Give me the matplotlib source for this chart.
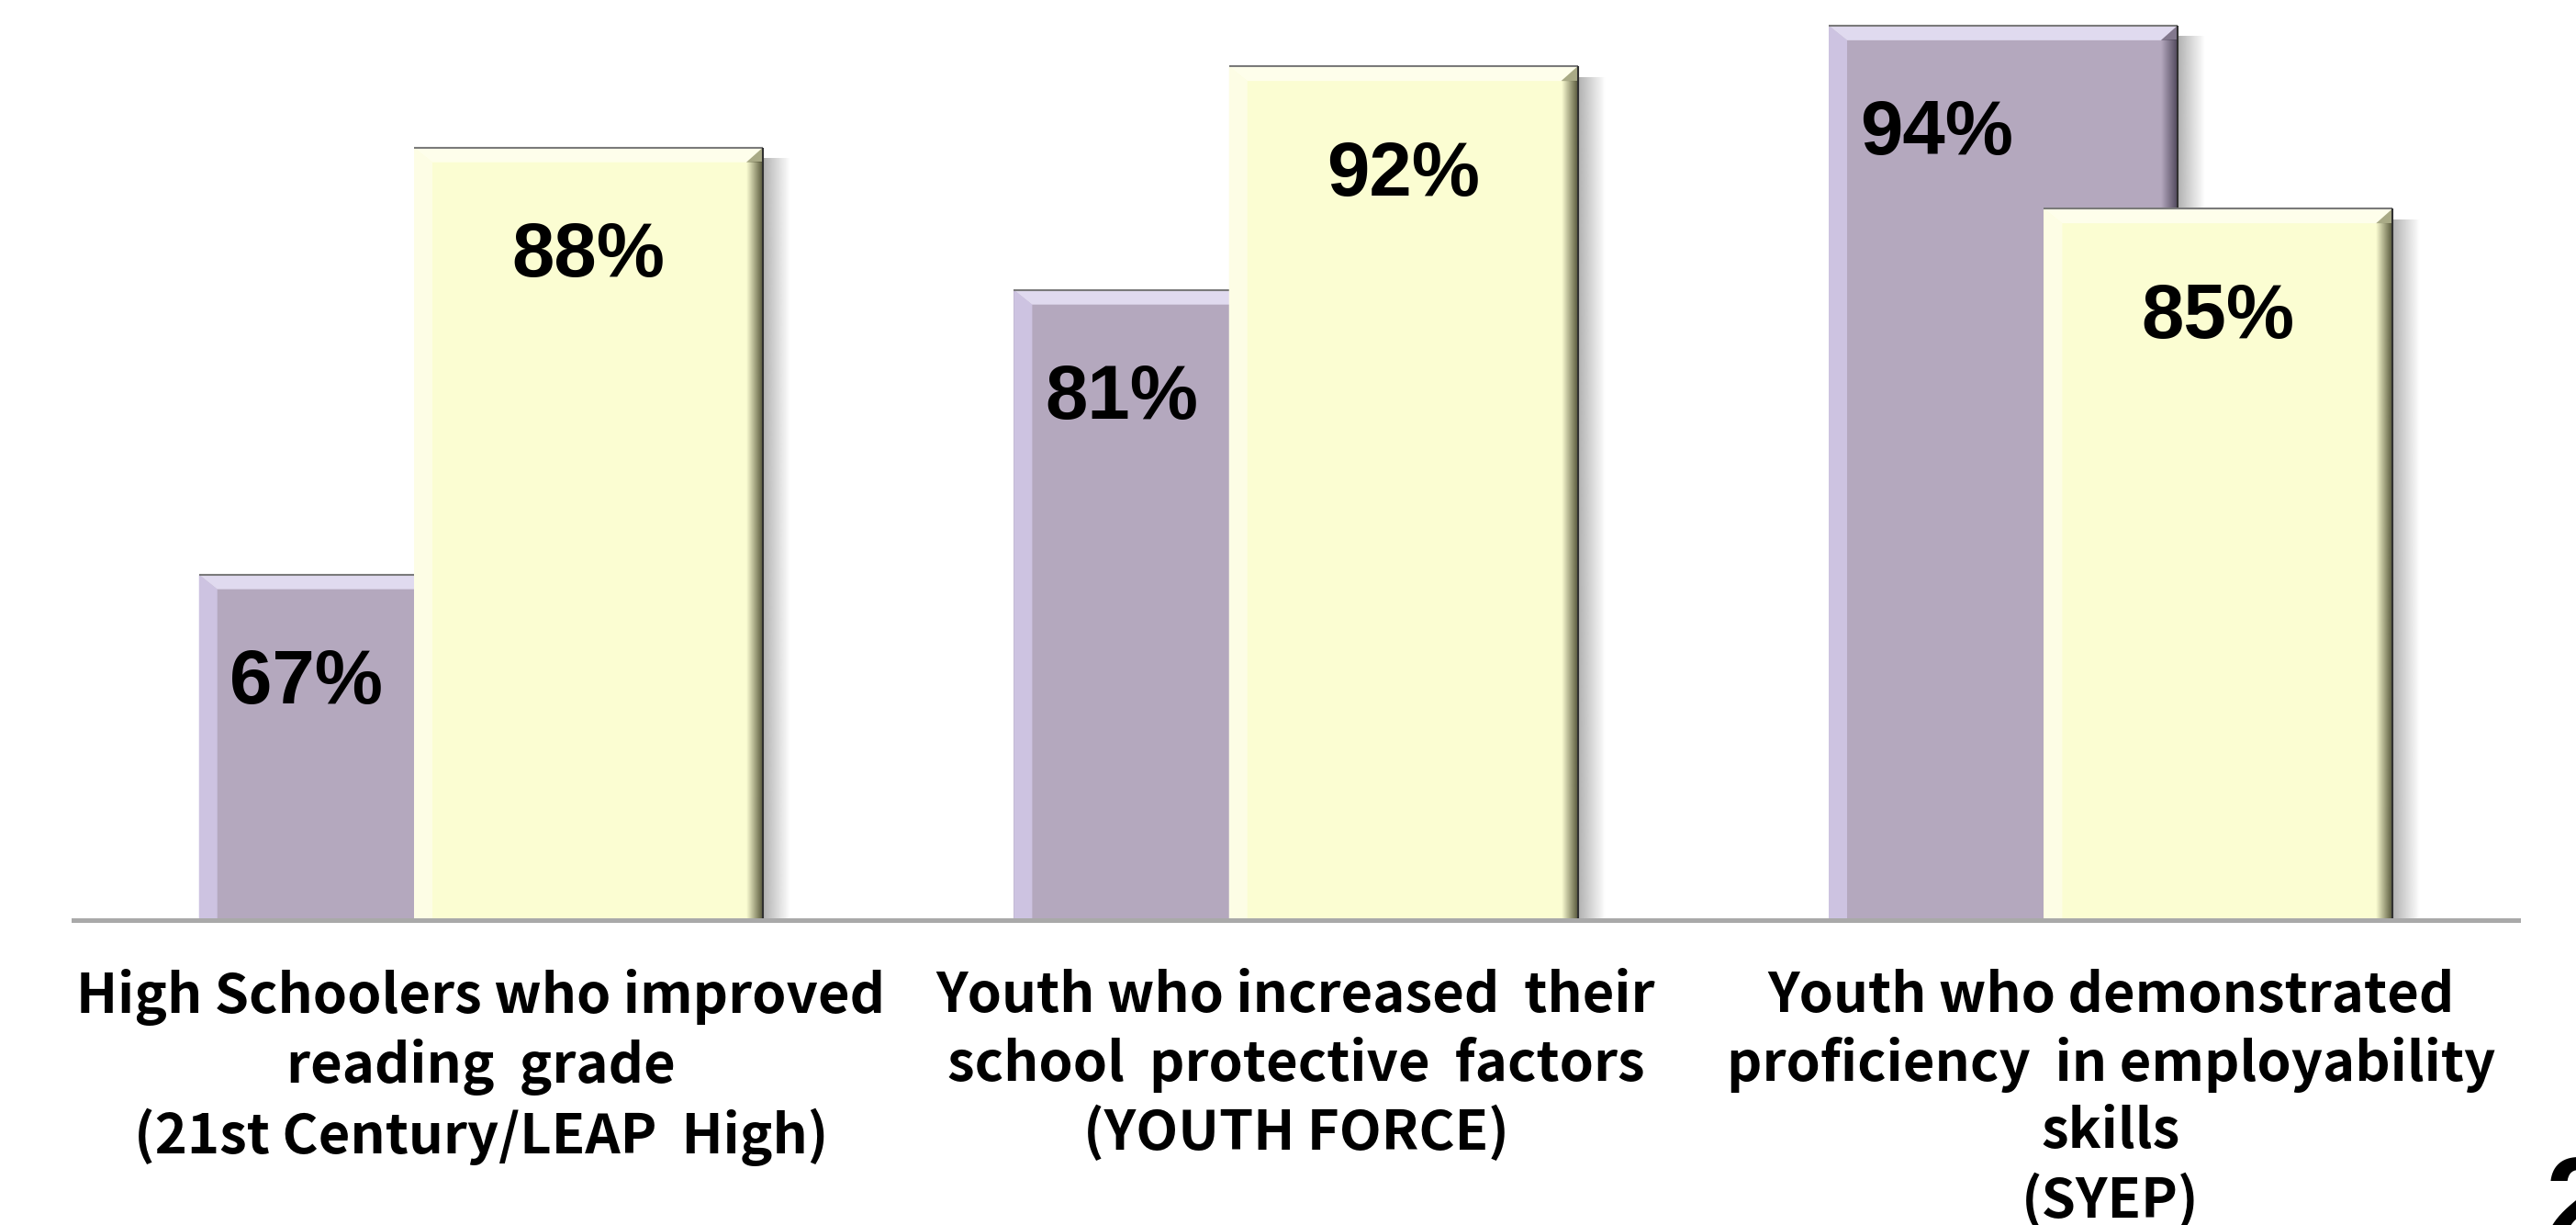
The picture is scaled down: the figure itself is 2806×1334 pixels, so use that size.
import matplotlib.pyplot as plt
import numpy as np
from matplotlib.patches import Polygon
from matplotlib.colors import to_rgb

# =========================
# DATA
# =========================
categories = [
    "High Schoolers who improved\nreading  grade\n(21st Century/LEAP  High)",
    "Youth who increased  their\nschool  protective  factors\n(YOUTH FORCE)",
    "Youth who demonstrated\nproficiency  in employability\nskills\n(SYEP)",
]
series_a = [67, 81, 94]   # purple series
series_b = [88, 92, 85]   # yellow series

# =========================
# STYLE
# =========================
PURPLE = "#b4a8be"
PURPLE_LEFT = "#d0c7e6"
PURPLE_TOP = "#e6e0f5"
PURPLE_DARK = "#463e52"

YELLOW = "#fbfdd2"
YELLOW_LEFT = "#fefee8"
YELLOW_TOP = "#ffffee"
YELLOW_DARK = "#45452a"

W, H = 2806, 1334
BAR_W = 0.428
OFFSET = 0.132

fig = plt.figure(figsize=(W / 100, H / 100), dpi=100)
ax = fig.add_axes([80 / W, (H - 1002) / H, 2663 / W, 1107 / H])
ax.set_xlim(-0.5, 2.5)
ax.set_ylim(50, 100)

# data units per output pixel
PX = 3 / 2663
PY = 50 / 1107


def gradient(x0, x1, y0, y1, color, a0, a1, z, vertical=False):
    n = 64
    img = np.zeros((n, 1, 4)) if vertical else np.zeros((1, n, 4))
    img[..., :3] = to_rgb(color)
    alpha = np.linspace(a0, a1, n)
    img[..., 3] = alpha[:, None] if vertical else alpha[None, :]
    ax.imshow(img, extent=(x0, x1, y0, y1), origin="lower", aspect="auto",
              interpolation="bilinear", zorder=z)


def bevel(bar, left_col, top_col, dark_col, z):
    x0 = bar.get_x()
    x1 = x0 + bar.get_width()
    yb = max(bar.get_y(), 50)
    yt = bar.get_y() + bar.get_height()
    lw, rw, tw = 20 * PX, 18 * PX, 16 * PY

    # drop shadow on the right side
    gradient(x1, x1 + 30 * PX, yb, yt - 12 * PY, "#707070", 0.55, 0.0, z - 0.5)

    ax.add_patch(Polygon([(x0, yb), (x0, yt), (x0 + lw, yt - tw), (x0 + lw, yb)],
                         closed=True, facecolor=left_col, edgecolor="none",
                         alpha=0.9, zorder=z + 0.1))
    ax.add_patch(Polygon([(x0, yt), (x1, yt), (x1 - rw, yt - tw), (x0 + lw, yt - tw)],
                         closed=True, facecolor=top_col, edgecolor="none",
                         alpha=0.9, zorder=z + 0.1))
    gradient(x1 - rw, x1, yb, yt - tw, dark_col, 0.0, 0.9, z + 0.2)
    ax.add_patch(Polygon([(x1, yt), (x1 - rw, yt - tw), (x1, yt - tw)],
                         closed=True, facecolor=dark_col, edgecolor="none",
                         alpha=0.45, zorder=z + 0.2))
    # thin outline along the top
    ax.plot([x0, x1], [yt, yt], color="#7a7a7a", lw=1.5, zorder=z + 0.3,
            solid_capstyle="butt")
    ax.plot([x1, x1], [yb, yt], color="#303030", lw=1.5, zorder=z + 0.3,
            solid_capstyle="butt")


x = np.arange(len(categories))

bars_a = ax.bar(x - OFFSET, series_a, width=BAR_W, color=PURPLE, zorder=2)
bars_b = ax.bar(x + OFFSET, series_b, width=BAR_W, color=YELLOW, zorder=4)

for bar in bars_a:
    bevel(bar, PURPLE_LEFT, PURPLE_TOP, PURPLE_DARK, 2)
for bar in bars_b:
    bevel(bar, YELLOW_LEFT, YELLOW_TOP, YELLOW_DARK, 4)

# value labels, just under each bar top
label_font = dict(family="Liberation Sans", weight="bold", size=60, color="black")
for ba, bb, va_, vb_ in zip(bars_a, bars_b, series_a, series_b):
    # purple labels sit in the part of the bar left of the yellow one
    xa = (ba.get_x() + bb.get_x()) / 2
    ax.text(xa, va_ - 5.35, f"{va_}%", ha="center", va="center", zorder=10, **label_font)
    xb = bb.get_x() + bb.get_width() / 2
    ax.text(xb, vb_ - 5.35, f"{vb_}%", ha="center", va="center", zorder=10, **label_font)

# axes styling
for side in ["top", "right", "left"]:
    ax.spines[side].set_visible(False)
ax.spines["bottom"].set_color("#a9a9a9")
ax.spines["bottom"].set_linewidth(3.6)
ax.spines["bottom"].set_zorder(6)
ax.set_yticks([])
ax.set_xticks(x)
ax.set_xticklabels(categories, family="Noto Sans CJK KR", weight="bold",
                   fontsize=43, linespacing=1.29, va="top")
ax.tick_params(axis="x", length=0, pad=38)

ax.set_xlim(-0.5, 2.5)
ax.set_ylim(50, 100)

# slide number peeking in at the corner
fig.text(2772 / W, 1 - 1256 / H, "2", family="Liberation Sans", weight="bold",
         fontsize=95, ha="left", va="top")

fig.savefig("out.png", dpi=100, facecolor="white")
